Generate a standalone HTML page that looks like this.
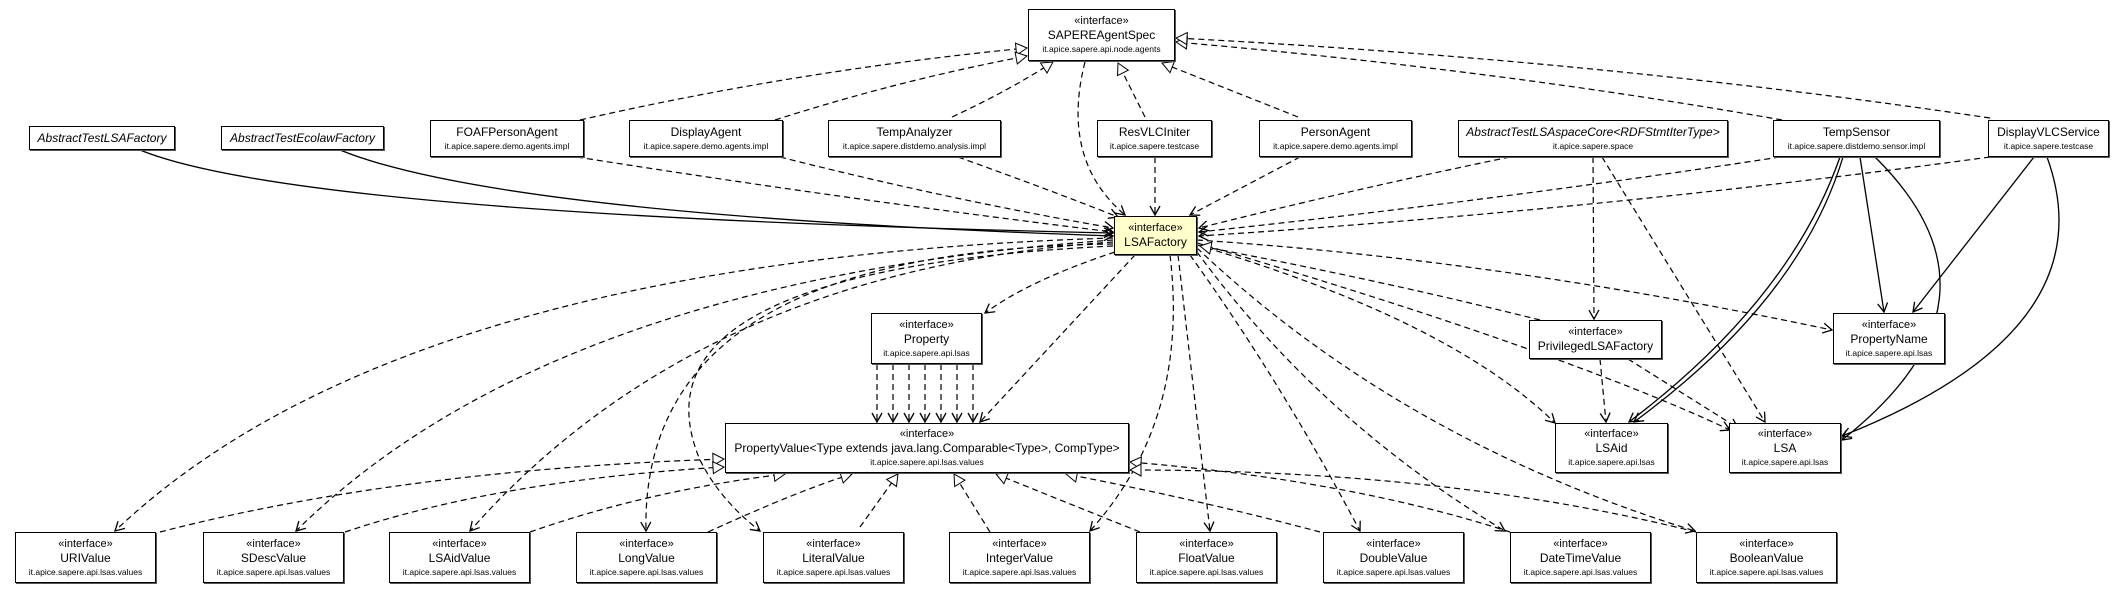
<!DOCTYPE html>
<html><head><meta charset="utf-8"><style>
body{margin:0;background:#fff;width:2124px;height:595px;overflow:hidden;position:relative;font-family:"Liberation Sans",sans-serif}
.b{position:absolute;box-sizing:border-box;border:1.5px solid #000;background:#fff;text-align:center;box-shadow:1px 1px 0 #555}
.b .s{font-size:11px;margin-top:5px;line-height:13px}
.b .n{font-size:12px;line-height:15px}
.b .p{font-size:8.5px;line-height:12px}
.c{display:flex;flex-direction:column;justify-content:center}
svg{position:absolute;left:0;top:0}
</style></head><body>
<svg width="2124" height="595" viewBox="0 0 2124 595">
<defs>
<marker id="o" markerWidth="12" markerHeight="12" refX="10" refY="6" orient="auto" markerUnits="userSpaceOnUse"><path d="M1,1 L10,6 L1,11" fill="none" stroke="#000" stroke-width="1.3"/></marker>
<marker id="t" markerWidth="14" markerHeight="14" refX="12" refY="7" orient="auto" markerUnits="userSpaceOnUse"><path d="M1,1 L12,7 L1,13 Z" fill="#fff" stroke="#000" stroke-width="1"/></marker>
</defs>
<g fill="none" stroke="#000" stroke-width="1.2" stroke-dasharray="6,4">
<path d="M580,120 Q800,70 1027,48" marker-end="url(#t)"/>
<path d="M775,120 Q900,80 1027,56" marker-end="url(#t)"/>
<path d="M952,117 Q1010,90 1053,62" marker-end="url(#t)"/>
<path d="M1145,117 L1118,63" marker-end="url(#t)"/>
<path d="M1298,117 L1162,63" marker-end="url(#t)"/>
<path d="M1782,120 Q1500,70 1176,42" marker-end="url(#t)"/>
<path d="M1990,118 Q1600,60 1176,38" marker-end="url(#t)"/>
<path d="M577,157 Q850,200 1113,232" marker-end="url(#o)"/>
<path d="M780,157 Q950,200 1113,228" marker-end="url(#o)"/>
<path d="M958,157 Q1050,190 1118,217" marker-end="url(#o)"/>
<path d="M1085,62 Q1060,160 1125,215" marker-end="url(#o)"/>
<path d="M1155,157 L1155,215" marker-end="url(#o)"/>
<path d="M1300,157 L1190,215" marker-end="url(#o)"/>
<path d="M1510,157 Q1350,190 1199,228" marker-end="url(#o)"/>
<path d="M1780,157 Q1500,200 1199,232" marker-end="url(#o)"/>
<path d="M1990,157 Q1600,210 1199,236" marker-end="url(#o)"/>
<path d="M1113,238 Q400,260 115,531" marker-end="url(#o)"/>
<path d="M1113,240 Q550,280 296,531" marker-end="url(#o)"/>
<path d="M1113,242 Q700,270 470,531" marker-end="url(#o)"/>
<path d="M1113,244 Q640,250 646,531" marker-end="url(#o)"/>
<path d="M1113,246 Q620,270 700,460 Q720,500 760,531" marker-end="url(#o)"/>
<path d="M1115,252 Q1030,280 985,313" marker-end="url(#o)"/>
<path d="M1135,255 L980,422" marker-end="url(#o)"/>
<path d="M1170,255 Q1190,420 1090,531" marker-end="url(#o)"/>
<path d="M1178,255 L1210,531" marker-end="url(#o)"/>
<path d="M1190,255 Q1280,380 1360,531" marker-end="url(#o)"/>
<path d="M1197,252 Q1320,420 1505,531" marker-end="url(#o)"/>
<path d="M1197,248 Q1400,440 1695,531" marker-end="url(#o)"/>
<path d="M1197,245 Q1450,320 1555,423" marker-end="url(#o)"/>
<path d="M1197,243 Q1560,350 1730,430" marker-end="url(#o)"/>
<path d="M1197,240 Q1500,260 1832,330" marker-end="url(#o)"/>
<path d="M1540,320 Q1380,280 1200,246" marker-end="url(#t)"/>
<path d="M877,364 L877,422" marker-end="url(#o)"/>
<path d="M893,364 L893,422" marker-end="url(#o)"/>
<path d="M909,364 L909,422" marker-end="url(#o)"/>
<path d="M925,364 L925,422" marker-end="url(#o)"/>
<path d="M941,364 L941,422" marker-end="url(#o)"/>
<path d="M957,364 L957,422" marker-end="url(#o)"/>
<path d="M973,364 L973,422" marker-end="url(#o)"/>
<path d="M160,532 Q400,470 724,459" marker-end="url(#t)"/>
<path d="M345,532 Q500,480 724,467" marker-end="url(#t)"/>
<path d="M530,532 Q650,490 785,474" marker-end="url(#t)"/>
<path d="M708,532 Q800,490 852,474" marker-end="url(#t)"/>
<path d="M860,527 L898,474" marker-end="url(#t)"/>
<path d="M990,532 L954,474" marker-end="url(#t)"/>
<path d="M1140,532 Q1060,500 996,474" marker-end="url(#t)"/>
<path d="M1320,532 Q1200,500 1066,474" marker-end="url(#t)"/>
<path d="M1510,532 Q1350,480 1130,462" marker-end="url(#t)"/>
<path d="M1696,532 Q1450,470 1130,470" marker-end="url(#t)"/>
<path d="M1593,157 L1594,319" marker-end="url(#o)"/>
<path d="M1602,157 L1765,422" marker-end="url(#o)"/>
<path d="M1600,359 L1606,422" marker-end="url(#o)"/>
<path d="M1628,359 L1738,428" marker-end="url(#o)"/>
</g>
<g fill="none" stroke="#000" stroke-width="1.3">
<path d="M140,150 Q300,215 1113,233" marker-end="url(#o)"/>
<path d="M340,150 Q500,215 1113,236" marker-end="url(#o)"/>
<path d="M1843,157 Q1800,300 1634,422" marker-end="url(#o)"/>
<path d="M1840,157 Q1790,300 1629,422" marker-end="url(#o)"/>
<path d="M1860,157 L1884,312" marker-end="url(#o)"/>
<path d="M1875,157 Q2020,300 1842,440" marker-end="url(#o)"/>
<path d="M2034,157 L1913,312" marker-end="url(#o)"/>
<path d="M2047,157 Q2110,330 1842,436" marker-end="url(#o)"/>
</g>
</svg>

<div class="b" style="left:1028px;top:9px;width:147px;height:52px"><div class="s">«interface»</div><div class="n">SAPEREAgentSpec</div><div class="p">it.apice.sapere.api.node.agents</div></div>

<div class="b c" style="left:29px;top:126px;width:146px;height:24px"><div class="n"><i>AbstractTestLSAFactory</i></div></div>
<div class="b c" style="left:221px;top:126px;width:163px;height:24px"><div class="n"><i>AbstractTestEcolawFactory</i></div></div>
<div class="b c" style="left:430px;top:120px;width:154px;height:37px"><div class="n">FOAFPersonAgent</div><div class="p">it.apice.sapere.demo.agents.impl</div></div>
<div class="b c" style="left:629px;top:120px;width:154px;height:37px"><div class="n">DisplayAgent</div><div class="p">it.apice.sapere.demo.agents.impl</div></div>
<div class="b c" style="left:828px;top:120px;width:173px;height:37px"><div class="n">TempAnalyzer</div><div class="p">it.apice.sapere.distdemo.analysis.impl</div></div>
<div class="b c" style="left:1097px;top:120px;width:115px;height:37px"><div class="n">ResVLCIniter</div><div class="p">it.apice.sapere.testcase</div></div>
<div class="b c" style="left:1259px;top:120px;width:153px;height:37px"><div class="n">PersonAgent</div><div class="p">it.apice.sapere.demo.agents.impl</div></div>
<div class="b c" style="left:1458px;top:120px;width:270px;height:37px"><div class="n"><i>AbstractTestLSAspaceCore&lt;RDFStmtIterType&gt;</i></div><div class="p">it.apice.sapere.space</div></div>
<div class="b c" style="left:1773px;top:120px;width:167px;height:37px"><div class="n">TempSensor</div><div class="p">it.apice.sapere.distdemo.sensor.impl</div></div>
<div class="b c" style="left:1988px;top:120px;width:121px;height:37px"><div class="n">DisplayVLCService</div><div class="p">it.apice.sapere.testcase</div></div>

<div class="b c" style="left:1114px;top:216px;width:83px;height:39px;background:#ffffcc"><div class="s" style="margin-top:0">«interface»</div><div class="n">LSAFactory</div></div>

<div class="b c" style="left:871px;top:313px;width:111px;height:51px"><div class="s" style="margin-top:0">«interface»</div><div class="n">Property</div><div class="p">it.apice.sapere.api.lsas</div></div>
<div class="b c" style="left:1529px;top:320px;width:133px;height:39px"><div class="s" style="margin-top:0">«interface»</div><div class="n">PrivilegedLSAFactory</div></div>
<div class="b c" style="left:1833px;top:313px;width:112px;height:51px"><div class="s" style="margin-top:0">«interface»</div><div class="n">PropertyName</div><div class="p">it.apice.sapere.api.lsas</div></div>

<div class="b c" style="left:725px;top:423px;width:404px;height:50px"><div class="s" style="margin-top:0">«interface»</div><div class="n">PropertyValue&lt;Type extends java.lang.Comparable&lt;Type&gt;, CompType&gt;</div><div class="p">it.apice.sapere.api.lsas.values</div></div>
<div class="b c" style="left:1555px;top:423px;width:113px;height:50px"><div class="s" style="margin-top:0">«interface»</div><div class="n">LSAid</div><div class="p">it.apice.sapere.api.lsas</div></div>
<div class="b c" style="left:1729px;top:423px;width:112px;height:50px"><div class="s" style="margin-top:0">«interface»</div><div class="n">LSA</div><div class="p">it.apice.sapere.api.lsas</div></div>

<div class="b c" style="left:15px;top:532px;width:141px;height:51px"><div class="s" style="margin-top:0">«interface»</div><div class="n">URIValue</div><div class="p">it.apice.sapere.api.lsas.values</div></div>
<div class="b c" style="left:203px;top:532px;width:141px;height:51px"><div class="s" style="margin-top:0">«interface»</div><div class="n">SDescValue</div><div class="p">it.apice.sapere.api.lsas.values</div></div>
<div class="b c" style="left:389px;top:532px;width:141px;height:51px"><div class="s" style="margin-top:0">«interface»</div><div class="n">LSAidValue</div><div class="p">it.apice.sapere.api.lsas.values</div></div>
<div class="b c" style="left:576px;top:532px;width:141px;height:51px"><div class="s" style="margin-top:0">«interface»</div><div class="n">LongValue</div><div class="p">it.apice.sapere.api.lsas.values</div></div>
<div class="b c" style="left:763px;top:532px;width:141px;height:51px"><div class="s" style="margin-top:0">«interface»</div><div class="n">LiteralValue</div><div class="p">it.apice.sapere.api.lsas.values</div></div>
<div class="b c" style="left:949px;top:532px;width:141px;height:51px"><div class="s" style="margin-top:0">«interface»</div><div class="n">IntegerValue</div><div class="p">it.apice.sapere.api.lsas.values</div></div>
<div class="b c" style="left:1136px;top:532px;width:141px;height:51px"><div class="s" style="margin-top:0">«interface»</div><div class="n">FloatValue</div><div class="p">it.apice.sapere.api.lsas.values</div></div>
<div class="b c" style="left:1323px;top:532px;width:141px;height:51px"><div class="s" style="margin-top:0">«interface»</div><div class="n">DoubleValue</div><div class="p">it.apice.sapere.api.lsas.values</div></div>
<div class="b c" style="left:1510px;top:532px;width:141px;height:51px"><div class="s" style="margin-top:0">«interface»</div><div class="n">DateTimeValue</div><div class="p">it.apice.sapere.api.lsas.values</div></div>
<div class="b c" style="left:1696px;top:532px;width:141px;height:51px"><div class="s" style="margin-top:0">«interface»</div><div class="n">BooleanValue</div><div class="p">it.apice.sapere.api.lsas.values</div></div>
</body></html>
